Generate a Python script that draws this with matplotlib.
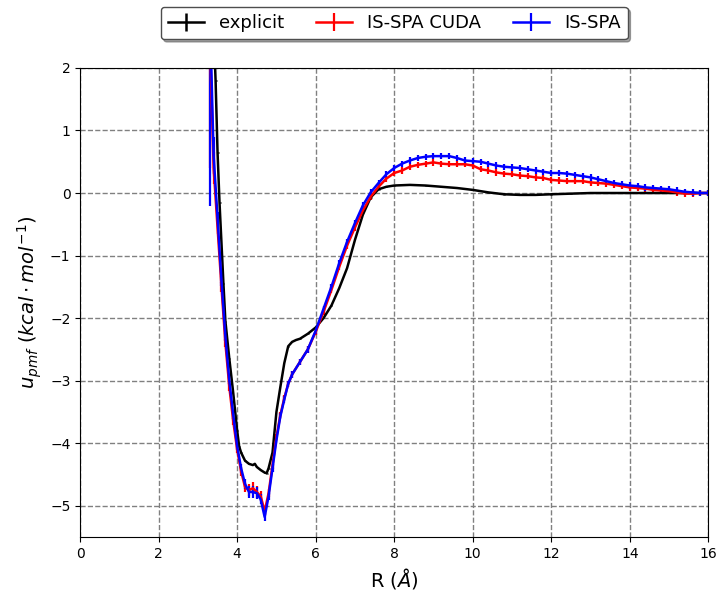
import numpy as np
import matplotlib
matplotlib.use('Agg')
import matplotlib.pyplot as plt

# explicit solvent PMF
r_explicit = [3.35, 3.45, 3.5, 3.55, 3.6, 3.65, 3.7, 3.8, 3.9, 4.0, 4.05, 4.1, 4.2, 4.3, 4.4,
              4.45, 4.5, 4.6, 4.7, 4.75, 4.8, 4.9, 5.0, 5.1, 5.2, 5.3, 5.4, 5.5, 5.6, 5.8,
              6.0, 6.2, 6.4, 6.6, 6.8, 7.0, 7.2, 7.4, 7.6, 7.8, 8.0, 8.4, 8.8, 9.2, 9.6,
              10.0, 10.4, 10.8, 11.2, 11.6, 12.0, 12.5, 13.0, 14.0, 15.0, 16.0]
u_explicit = [3.5, 1.8, 0.65, -0.15, -0.8, -1.45, -2.05, -2.65, -3.2, -3.8, -4.05, -4.15, -4.28, -4.33, -4.35,
              -4.33, -4.38, -4.43, -4.47, -4.48, -4.4, -4.15, -3.5, -3.1, -2.72, -2.45, -2.38, -2.35, -2.33, -2.25,
              -2.15, -2.0, -1.8, -1.52, -1.2, -0.75, -0.35, -0.07, 0.06, 0.1, 0.12, 0.13, 0.12, 0.1, 0.08,
              0.05, 0.01, -0.02, -0.03, -0.03, -0.02, -0.01, 0.0, 0.0, 0.0, 0.0]

# IS-SPA runs share one grid
r_spa = [3.3, 3.4, 3.5, 3.6, 3.7, 3.8, 3.9, 4.0, 4.1, 4.2, 4.3, 4.4, 4.5, 4.6, 4.7, 4.8, 4.9,
         5.0, 5.1, 5.2, 5.3, 5.4, 5.6, 5.8, 6.0, 6.2, 6.4, 6.6, 6.8, 7.0, 7.2, 7.4, 7.6, 7.8,
         8.0, 8.2, 8.4, 8.6, 8.8, 9.0, 9.2, 9.4, 9.6, 9.8, 10.0, 10.2, 10.4, 10.6, 10.8, 11.0,
         11.2, 11.4, 11.6, 11.8, 12.0, 12.2, 12.4, 12.6, 12.8, 13.0, 13.2, 13.4, 13.6, 13.8,
         14.0, 14.2, 14.4, 14.6, 14.8, 15.0, 15.2, 15.4, 15.6, 15.8, 16.0]

u_cuda = [2.6, 0.4, -0.55, -1.5, -2.4, -3.1, -3.65, -4.1, -4.45, -4.7, -4.75, -4.72, -4.78, -4.85, -5.09, -4.8, -4.35,
          -3.9, -3.55, -3.28, -3.05, -2.9, -2.7, -2.5, -2.22, -1.9, -1.55, -1.18, -0.84, -0.55, -0.28, -0.06, 0.1, 0.23,
          0.32, 0.36, 0.42, 0.45, 0.47, 0.49, 0.47, 0.46, 0.46, 0.46, 0.44, 0.38, 0.36, 0.33, 0.31, 0.3,
          0.28, 0.27, 0.25, 0.24, 0.21, 0.2, 0.19, 0.19, 0.19, 0.17, 0.16, 0.15, 0.13, 0.11,
          0.09, 0.08, 0.07, 0.05, 0.04, 0.03, 0.01, -0.01, -0.01, 0.0, 0.0]
err_cuda = [2.2, 0.25, 0.1, 0.08, 0.06, 0.06, 0.06, 0.06, 0.07, 0.08, 0.1, 0.1, 0.1, 0.08, 0.06, 0.06, 0.06,
            0.05, 0.05, 0.05, 0.05, 0.05, 0.05, 0.05, 0.05, 0.05, 0.05, 0.05, 0.05, 0.05, 0.05, 0.05, 0.05, 0.05,
            0.05, 0.05, 0.05, 0.05, 0.05, 0.05, 0.05, 0.05, 0.05, 0.05, 0.05, 0.05, 0.05, 0.05, 0.05, 0.05,
            0.05, 0.05, 0.05, 0.05, 0.05, 0.05, 0.05, 0.05, 0.05, 0.05, 0.05, 0.05, 0.05, 0.05,
            0.05, 0.05, 0.05, 0.05, 0.05, 0.05, 0.05, 0.05, 0.05, 0.05, 0.05]

u_spa = [3.0, 0.6, -0.4, -1.4, -2.3, -3.0, -3.55, -4.05, -4.4, -4.65, -4.78, -4.78, -4.8, -4.9, -5.18, -4.85, -4.4,
         -3.95, -3.57, -3.3, -3.05, -2.9, -2.7, -2.5, -2.2, -1.85, -1.5, -1.12, -0.78, -0.48, -0.2, 0.01, 0.16, 0.3,
         0.4, 0.47, 0.52, 0.56, 0.58, 0.59, 0.59, 0.59, 0.56, 0.52, 0.51, 0.5, 0.47, 0.44, 0.42, 0.41,
         0.4, 0.38, 0.36, 0.34, 0.32, 0.32, 0.31, 0.29, 0.27, 0.25, 0.22, 0.19, 0.16, 0.14,
         0.12, 0.11, 0.09, 0.08, 0.07, 0.06, 0.04, 0.02, 0.01, 0.0, 0.0]
err_spa = [3.2, 0.3, 0.1, 0.08, 0.06, 0.06, 0.06, 0.06, 0.07, 0.08, 0.1, 0.1, 0.1, 0.08, 0.06, 0.06, 0.06,
           0.05, 0.05, 0.05, 0.05, 0.05, 0.05, 0.05, 0.05, 0.05, 0.05, 0.05, 0.05, 0.05, 0.05, 0.05, 0.05, 0.05,
           0.05, 0.05, 0.05, 0.05, 0.05, 0.05, 0.05, 0.05, 0.05, 0.05, 0.05, 0.05, 0.05, 0.05, 0.05, 0.05,
           0.05, 0.05, 0.05, 0.05, 0.05, 0.05, 0.05, 0.05, 0.05, 0.05, 0.05, 0.05, 0.05, 0.05,
           0.05, 0.05, 0.05, 0.05, 0.05, 0.05, 0.05, 0.05, 0.05, 0.05, 0.05]

fig, ax = plt.subplots(figsize=(7.22, 5.96), dpi=100)
fig.subplots_adjust(left=0.111, right=0.981, top=0.886, bottom=0.099)

ax.errorbar(r_explicit, u_explicit, yerr=0.005, color='k', lw=1.8, label='explicit')
ax.errorbar(r_spa, u_cuda, yerr=err_cuda, color='r', lw=1.8, elinewidth=1.6, label='IS-SPA CUDA')
ax.errorbar(r_spa, u_spa, yerr=err_spa, color='b', lw=1.8, elinewidth=1.6, label='IS-SPA')

ax.set_xlim(0, 16)
ax.set_ylim(-5.5, 2)
ax.set_xticks(np.arange(0, 17, 2))
ax.set_yticks(np.arange(-5, 3, 1))
ax.grid(True, linestyle='--', color='gray', lw=1)
ax.tick_params(labelsize=10)
ax.set_xlabel(r'R ($\AA$)', fontsize=14)
ax.set_ylabel(r'$u_{pmf}\ (kcal \cdot mol^{-1})$', fontsize=14)

ax.legend(loc='center', bbox_to_anchor=(0.5, 1.096), ncol=3, shadow=True, fancybox=True,
          fontsize=13, handlelength=2.0, columnspacing=1.8, framealpha=1, edgecolor='0.3')

plt.savefig('out.png')
